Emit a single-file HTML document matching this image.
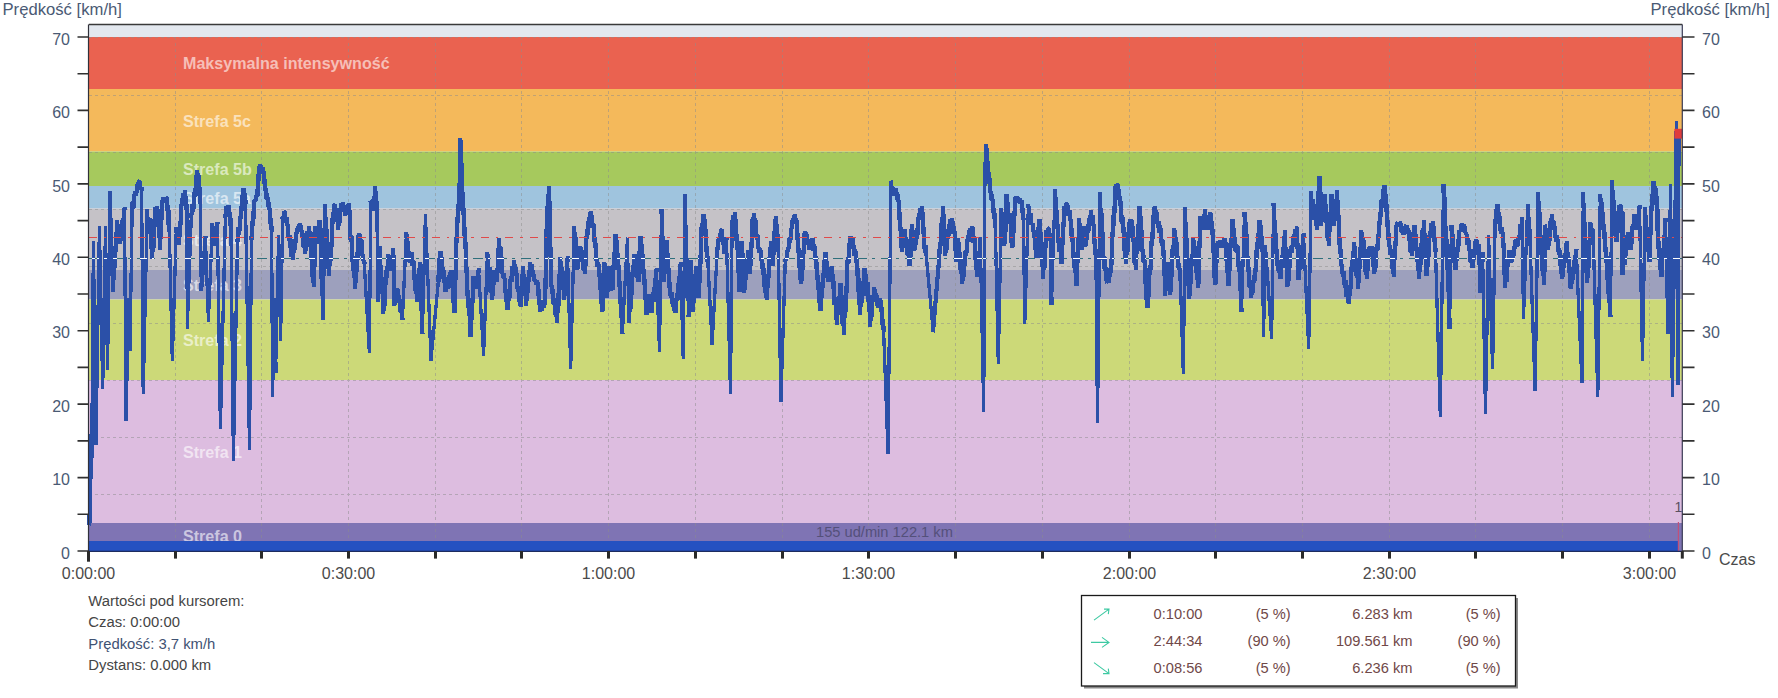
<!DOCTYPE html><html><head><meta charset="utf-8"><title>Prędkość</title>
<style>html,body{margin:0;padding:0;background:#fff}svg{display:block}text{font-family:"Liberation Sans",Arial,sans-serif}</style></head><body>
<svg width="1778" height="698" viewBox="0 0 1778 698">
<rect width="1778" height="698" fill="#fff"/>
<rect x="88.8" y="24.5" width="1593.5" height="12.5" fill="#e3e8ef"/>
<rect x="88.8" y="37" width="1593.5" height="52.0" fill="#ea6250"/>
<rect x="88.8" y="89" width="1593.5" height="62.5" fill="#f4b95b"/>
<rect x="88.8" y="151.5" width="1593.5" height="34.5" fill="#a6c95d"/>
<rect x="88.8" y="186" width="1593.5" height="22.5" fill="#9fc4de"/>
<rect x="88.8" y="208.5" width="1593.5" height="61.5" fill="#c5c2c7"/>
<rect x="88.8" y="270" width="1593.5" height="29.5" fill="#9da0bd"/>
<rect x="88.8" y="299.5" width="1593.5" height="80.5" fill="#ccd978"/>
<rect x="88.8" y="380" width="1593.5" height="143.0" fill="#ddbde0"/>
<rect x="88.8" y="523" width="1593.5" height="28.5" fill="#7f74b4"/>
<path d="M175.5 37V541 M261.5 37V541 M348.5 37V541 M435.5 37V541 M521.5 37V541 M608.5 37V541 M695.5 37V541 M782.5 37V541 M868.5 37V541 M955.5 37V541 M1042.5 37V541 M1129.5 37V541 M1215.5 37V541 M1302.5 37V541 M1389.5 37V541 M1475.5 37V541 M1562.5 37V541 M1649.5 37V541 M88.8 37.5H1682.3 M88.8 95.5H1682.3 M88.8 152.5H1682.3 M88.8 209.5H1682.3 M88.8 266.5H1682.3 M88.8 323.5H1682.3 M88.8 380.5H1682.3 M88.8 437.5H1682.3 M88.8 494.5H1682.3" stroke="#8c8c8c" stroke-opacity="0.5" stroke-width="1" stroke-dasharray="3 3" fill="none" shape-rendering="crispEdges"/>
<text x="183" y="69.3" font-size="16.1" font-weight="bold" fill="#ffffff" fill-opacity="0.6">Maksymalna intensywność</text>
<text x="183" y="126.5" font-size="16.1" font-weight="bold" fill="#ffffff" fill-opacity="0.6">Strefa 5c</text>
<text x="183" y="175.1" font-size="16.1" font-weight="bold" fill="#ffffff" fill-opacity="0.6">Strefa 5b</text>
<text x="183" y="203.6" font-size="16.1" font-weight="bold" fill="#ffffff" fill-opacity="0.6">Strefa 5a</text>
<text x="183" y="245.6" font-size="16.1" font-weight="bold" fill="#ffffff" fill-opacity="0.6">Strefa 4</text>
<text x="183" y="291.1" font-size="16.1" font-weight="bold" fill="#ffffff" fill-opacity="0.6">Strefa 3</text>
<text x="183" y="346.1" font-size="16.1" font-weight="bold" fill="#ffffff" fill-opacity="0.6">Strefa 2</text>
<text x="183" y="457.8" font-size="16.1" font-weight="bold" fill="#ffffff" fill-opacity="0.6">Strefa 1</text>
<text x="183" y="541.5" font-size="16.1" font-weight="bold" fill="#ffffff" fill-opacity="0.6">Strefa 0</text>
<rect x="88.8" y="541" width="1589.4" height="10.5" fill="#2551c1"/>
<text x="816" y="537" font-size="14.67" fill="#54507a">155 ud/min 122.1 km</text>
<defs><g id="ln" fill="none" stroke-linejoin="bevel" stroke-linecap="square" shape-rendering="crispEdges"><path d="M89.4,523.4 90.6,471.2 90.74,451.5 91.44,458.4 91.44,434.4 91.95,442.1 92,425.1 M113,290 114.17,260.2 114.87,267.9 115.07,245.8 115.77,251.6 117.1,220.2 118.46,237.2 119.16,230.7 120.1,244.3 121.5,228.1 122.2,232.6 122.66,218.6 123.36,223.5 124.5,209.2 M128.5,300 128.66,319.8 129.36,313.6 129.36,331.3 129.73,326.4 130,349 M132.1,212.2 132.68,200.9 133.38,208.5 134.1,196.1 135.21,191.1 135.91,195.7 136.8,191.1 137.25,183.7 137.95,190.1 138.6,181.7 139.57,181.1 140.27,188.9 141.6,189.1 M147.2,211.2 147.58,222.2 148.28,217.4 148.8,230.2 149.26,219.6 149.96,227 150.2,218.2 150.45,234.4 151.15,226.6 151.2,249.2 151.9,242.5 152.2,259.3 152.71,240.6 153.41,248.2 153.94,219.1 154.64,226.9 155.2,207.2 156.2,211.5 156.9,206.3 157.6,210.2 158.08,226.9 158.78,219.2 158.89,238.1 159.59,232.8 160.2,250.3 160.62,227.9 161.32,234.2 161.32,212.7 161.91,219.5 162.2,200.2 162.75,202.7 163.45,197.3 164.33,202.3 165.03,197 165.58,201.7 166.28,197.1 167.2,199.1 167.71,213.9 168.41,209.8 168.41,224.7 169.03,217.4 169.3,230.2 M176.3,229.2 177.05,239.5 177.75,232.5 178.9,245.3 179.3,230.3 180,236.5 180,220.8 180.66,225 181.3,207.2 182.08,198.5 182.78,206.2 183.42,193.2 184.12,200.1 185.3,190.1 185.59,204.4 186.29,196.7 186.29,209.5 186.68,204.2 186.9,216.2 M191.3,216.2 192.46,204.6 193.16,211.7 194.3,200.2 194.76,188.6 195.46,195.5 196.09,175 196.79,182.4 197.3,170.1 197.73,182.3 198.43,174.6 198.75,192.1 199.45,186.7 200.3,202.2 M201.3,289 202.39,267.4 203.09,275 203.58,252.7 204.28,260.3 205.4,238.3 M212.4,225.2 212.76,238.5 213.46,233.3 213.8,246.3 214.54,237.2 215.24,241.9 215.61,230.8 216.31,235.3 217.4,224.2 M225.4,216.2 226.64,206.4 227.34,214.3 228.4,205.2 229.01,216.6 229.71,212.3 229.83,226.1 230.53,218.5 231,230.2 M237.5,240.3 238.43,227.5 239.13,234.4 240.5,218.2 241.08,206.4 241.78,211.4 242.22,195.1 242.92,199.7 243.5,188.1 244.3,199.5 245,193 245.5,202.2 M251.5,238.3 252.29,221.1 252.99,226.4 253.01,210.8 253.71,218.6 254.5,200.2 255.68,200.4 256.38,195.9 257.5,196.1 257.69,185.1 258.39,190.8 258.39,174.1 259.07,181.4 259.5,166 260.35,165 261.05,170.7 262.12,173.4 262.82,167.7 263.5,172.1 264.21,184.3 264.91,179 265.5,190.1 266.37,199 267.07,193.2 268.15,207 268.85,202.6 269.6,210.2 270.35,224.3 271.05,218.2 271.6,230.2 M274.2,300 275.6,371.3 M282.6,218.2 283.33,219.3 284.03,211.7 285,212.2 286,223.2 286.7,217.3 288,230.2 288.91,240.9 289.61,234.7 290.15,247.4 290.85,243.2 291.64,256.9 292.34,251.5 293,260.3 293.69,248.5 294.39,252.6 294.56,239.4 295.26,245.5 296,232.2 297.03,233.9 297.73,226.6 298.37,231.7 299.07,225 299.77,223.8 300.47,229.1 301,225.2 302.07,237.3 302.77,233.3 303.41,247.3 304.11,242.3 305.1,254.3 306.19,241.3 306.89,247.1 307.62,230.9 308.32,237.4 309.1,226.2 309.85,237.7 310.55,232.3 311.1,242.3 311.68,261.7 312.38,254.8 312.62,277.2 313.32,271.8 313.7,287.1 313.89,259.8 314.59,267.2 314.59,240.8 315.03,248.6 315.1,226.2 315.9,239.6 316.6,233.6 317.1,244.3 317.96,229.8 318.66,234.4 319.5,220.2 319.77,235.7 320.47,228 320.47,243.5 320.91,236.8 321.1,250.3 321.49,278.7 322.19,271.9 322.19,295.5 322.68,288.5 323.1,318.2 M325.1,206.2 325.44,223.4 326.14,216.8 326.14,235.6 326.76,229.2 327.1,246.3 327.5,260.8 328.2,254.3 328.2,269.3 328.85,265.2 329.1,276.1 329.59,260.4 330.29,266.2 330.82,242 331.52,246.8 332.1,230.2 332.48,217.9 333.18,224.4 333.18,212.5 333.64,218.3 334.1,205.2 334.71,204.5 335.41,208.7 336.2,208.2 336.73,221.7 337.43,213.9 338.2,230.2 338.84,217.2 339.54,223.3 340.2,210.2 341.31,203.6 342.01,209 343.2,202.2 343.88,211.9 344.58,207 345.2,216.2 346.28,209 346.98,213 347.2,205.2 347.9,210.3 348.8,203.2 348.9,214 349.6,209.6 349.6,225.4 350.16,219.9 350.2,230.2 350.7,242 351.4,235.6 352.2,250.3 352.66,263.8 353.36,257.7 353.77,278.3 354.47,272 355.2,289.1 356.07,264.8 356.77,272 356.81,252.3 357.51,259.5 358.2,238.3 358.9,233.5 359.6,238.9 360.2,234.3 360.74,245.9 361.44,240.5 362.2,254.3 362.84,255.9 363.54,260.6 364.2,262.3 M370.9,202.2 371.79,203.7 372.49,209 373.3,210.2 373.91,195.8 374.61,201 375.3,185.7 375.59,200.9 376.29,194.9 376.29,208.9 376.67,201.5 376.9,216.2 M378.3,300.2 378.43,278.8 379.13,284.5 379.13,257.2 379.69,263.1 379.7,246.3 380.54,272.1 381.24,265.3 381.68,294 382.38,286.6 383.3,314.2 383.93,299.3 384.63,305.6 385.64,279.4 386.34,284.5 386.5,269.6 387.2,273.7 388.3,254.3 389.44,266.1 390.14,260.9 390.9,270.4 391.91,255.6 392.61,260.1 393.3,248.3 394.3,306.2 395.22,295.2 395.92,301.8 397.3,288.1 398.6,300.3 399.3,295.4 399.3,303.2 399.82,298.7 400.69,313.1 401.39,307.2 402.4,318.2 M406.4,234.3 407.08,246.4 407.78,241.4 408.04,254.9 408.74,250.8 409.4,262.3 410.25,261 410.95,253.7 411.8,252.3 412.66,266.3 413.36,259.9 414.23,280.3 414.93,273.8 415.74,294 416.44,287.1 417.4,302.2 417.7,287.8 418.4,294.7 418.57,273.6 419.27,279.7 419.8,262 422.4,332.2 M438.5,280.1 438.76,268.7 439.46,273.8 439.49,257.9 440.19,263.7 440.5,251.3 441.29,264 441.99,257.1 442.72,274.3 443.42,270.2 443.7,283.2 444.4,277.4 445.5,292.1 447.05,281.4 447.75,288.9 448.19,278.9 448.89,282.9 449.92,271.8 450.62,277.4 451.5,270.1 452.19,288.4 452.89,281.6 453.21,302.7 453.91,296.8 454.5,313.2 456.5,240.3 457.35,217.5 458.05,223 458.1,204 458.8,211.4 459.5,190.1 460.4,137.6 460.65,158 461.35,152.9 461.56,184.7 462.26,180.5 462.5,200.2 462.92,215.2 463.62,208.5 463.62,222.4 464.16,217.3 464.5,230.2 464.91,249.2 465.61,241.6 465.61,257.6 466.07,251.8 466.5,270.4 467.55,296.2 468.25,290.3 468.77,315.5 469.47,310.9 470.6,337.3 471.29,312.6 471.99,319.8 472.04,298.5 472.74,303.3 473.6,276.4 474.57,286.6 475.27,279.5 476,288.4 477.02,276.9 477.72,281 478.6,270.4 M487.4,254.3 488.75,275.1 489.45,267.3 490.48,291.9 491.18,285.1 492,300.1 492.33,288.7 493.03,296 493.27,278.3 493.97,284.8 494.6,270.3 495.39,280.6 496.09,273.8 496.6,282.3 496.91,267.6 497.61,272.7 498.01,247.7 498.71,252.2 499,238.2 499.74,252.3 500.44,246.7 500.55,261.1 501.25,254.6 502.1,270.3 503.03,277.6 503.73,273.2 505.1,282.3 505.5,293.2 506.2,288.9 506.2,302 506.88,295.7 507.5,310.1 508.55,293.6 509.25,301 510.1,286.3 510.85,276.3 511.55,282 512.3,266.6 513,272.9 514.1,260.3 515.24,275.1 515.94,267.4 517.1,282.3 517.88,292.2 518.58,288 519.26,301.9 519.96,297.3 520.7,307.1 521.2,289.7 521.9,295.6 522.11,274.1 522.81,280.3 523.1,266.3 523.81,282.8 524.51,277.8 524.77,295.6 525.47,290.7 526.1,306.1 527.24,286.7 527.94,292.7 528.18,277 528.88,281.9 530.1,262.3 531,271.4 531.7,264.5 532.21,276.8 532.91,270 534.1,280.3 535.22,279.6 535.92,283.9 536.22,284.9 536.92,280.5 538.2,284.3 538.43,296.1 539.13,288.7 539.18,305.4 539.88,300.1 540.2,312.1 541.34,306.5 542.04,310.6 542.53,303.6 543.23,307.8 543.32,299.9 544.02,307.6 545.2,300.1 546.2,246.2 546.79,222.1 547.49,227 547.49,206.1 548.12,213.9 548.8,186.4 548.95,208.6 549.65,201.4 549.65,221.2 550,214.7 550.2,238.2 551.2,282.3 552.21,294 552.91,289.1 553.69,304.9 554.39,298.5 555.2,314.7 555.9,309.2 557.2,323.2 557.68,301.4 558.38,308.7 558.92,274.1 559.62,281.3 560.2,257.3 561.14,274.8 561.84,267.4 562.53,289.1 563.23,282.8 564.2,300.1 565.02,282.2 565.72,289.1 566.06,270.8 566.76,275.1 567.6,258.3 M574.3,228.2 574.73,241.5 575.43,236.7 575.73,256.9 576.43,249.4 577.3,270.3 578.44,254.8 579.14,261.8 580.3,246.2 581.12,256.2 581.82,250.4 583.3,269.9 584,263.5 584.9,274.3 585,260.4 585.7,266.2 585.7,251.5 586.09,256 586.3,240.2 587.18,229.4 587.88,234.8 588.8,217.6 589.5,225.1 590.7,211.1 591.35,220 592.05,215 592.62,228 593.32,223.4 594.3,234.2 594.88,247.9 595.58,243 596.3,258.3 597.44,266.3 598.14,262.2 599.3,270.3 600.19,289.8 600.89,284.4 601.23,304.4 601.93,297.8 602.4,312.1 602.77,291.2 603.47,297 603.53,273.1 604.23,277.6 604.4,262.3 604.77,277.9 605.47,272.8 605.47,290.8 606.14,284 606.4,298.4 606.89,287.1 607.59,291.8 607.82,277 608.52,281.9 609.4,266.3 610.35,279.5 611.05,273.9 612.4,290.4 613.28,264.7 613.98,270.1 613.98,251.7 614.66,257.5 615.4,234.2 615.95,246.6 616.65,239.8 617.15,257.6 617.85,253 618.4,264.3 619.22,287.4 619.92,280.8 621,317.6 621.7,311.1 622.4,332.2 M629,321.2 629.94,301.3 630.64,309.1 630.92,290.9 631.62,295.1 632.94,265.2 633.64,270.8 634.4,254.3 635.12,264.7 635.82,258.5 637.1,278.2 637.8,272.2 638.5,282.3 638.77,265.9 639.47,270.2 639.47,251 640.05,258.5 640.5,236.2 641.15,251.4 641.85,243.7 641.94,259 642.64,254 643.5,270.3 643.93,284.8 644.63,279.2 644.94,299.5 645.64,294.5 646.5,315.1 647.41,302.3 648.11,307.5 649.1,294.1 649.78,304.3 650.48,300.2 651.5,313.1 652.78,296.8 653.48,301.5 653.66,288.9 654.36,294.4 654.93,278.6 655.63,282.9 656.5,270.3 M661.5,211.1 664.1,282.3 664.66,267.3 665.36,271.7 665.77,250.1 666.47,257.8 667.1,240.2 667.62,260.7 668.32,253.3 668.32,272.1 669,268.1 669.6,288.4 670.79,297.7 671.49,291.8 672.32,303.8 673.02,298.3 673.87,310.8 674.57,304 675.6,313.1 676.83,295.1 677.53,300.3 677.71,285.5 678.41,292.7 678.78,276.4 679.48,280.9 680.6,264.3 M688.6,315.1 688.98,296.3 689.68,300.6 689.95,272.6 690.65,279.8 691,260.3 691.14,278.3 691.84,273.8 691.84,293.8 692.31,288.9 692.6,312.1 693.16,297.1 693.86,302.7 694.56,278.5 695.26,283.5 696,266.3 696.33,278 697.03,271.3 697.2,287.6 697.9,282.8 698.6,298.1 698.97,277.5 699.67,282.9 699.7,259.2 700.4,264.8 701,238.2 701.83,223.6 702.53,230.5 703.5,214.5 704.04,227.1 704.74,219.5 704.95,235.8 705.65,228.8 706.1,240.2 706.44,252.1 707.14,246.4 707.18,262.2 707.88,255.6 708.1,266.3 M717.1,254.3 718.1,240.2 719.37,239.6 720.07,232.7 720.27,237.5 720.97,230.3 722.1,230.2 722.77,245.1 723.47,239.9 724.1,254.3 724.88,245 725.58,249.5 726.5,239.2 M732.1,224.2 733.3,215.5 734,220.8 735.2,212.1 735.47,225 736.17,218.9 736.54,241 737.24,236.9 737.6,250.2 737.8,265.5 738.5,257.7 738.69,283.2 739.39,277.5 739.6,292.1 739.84,273.2 740.54,281 740.54,259.1 741.13,265.1 741.6,241.2 741.96,257.8 742.66,253 742.92,276.9 743.62,272.3 744.2,293.1 745.26,275.7 745.96,280.3 746.83,258.7 747.53,263.7 748.2,250.2 748.88,265.9 749.58,259.4 750.2,274.3 750.4,258.6 751.1,265.6 751.16,242.5 751.86,248.2 752.2,230.2 752.61,219.2 753.31,225 753.8,213.1 754.55,224.1 755.25,217.7 756.2,230.2 756.74,239.4 757.44,235.3 758.2,246.2 759.43,252.8 760.13,248.2 761.2,254.3 762.08,268.9 762.78,262.6 762.78,274.8 763.36,267.6 764.2,282.3 765.12,293.1 765.82,288.9 766.8,300.1 768.13,273.9 768.83,278 769.23,257.2 769.93,263 770.9,241.2 771.34,253.9 772.04,248.3 772.04,259.3 772.49,254.3 772.9,266.3 773.35,249 774.05,255.2 774.35,230.8 775.05,237.7 775.7,216.5 776.11,229 776.81,223.7 776.98,241.5 777.68,233.7 778.3,250.2 M785.3,260.3 786.61,258.4 787.31,251 788.3,250.2 789.4,238.3 790.1,242.8 791.3,230.2 792.83,218.3 793.53,224.2 794.7,214.1 795.46,222.4 796.16,217.8 797.3,228.2 797.49,239.7 798.19,232.9 798.41,252.6 799.11,247.8 799.3,258.3 799.71,270.8 800.41,265.6 800.41,280.1 801.04,272.7 801.3,284.3 802.04,263 802.74,270.2 802.96,249.9 803.66,253.9 804.4,234.2 805.35,231.1 806.05,237.3 807,234.2 807.97,245 808.67,241 809.4,250.2 810.64,240.7 811.34,247 812.4,238.2 813.56,250.3 814.26,244.3 815.4,256.3 816.06,268.8 816.76,262.1 817.4,274.3 818.03,289.8 818.73,282.7 819.09,303.1 819.79,295.5 820.4,311.1 821.35,293.7 822.05,297.9 822.27,282.2 822.97,287.8 824.17,260.6 824.87,264.6 825.4,252.2 826.18,265.9 826.88,261.1 826.95,273.3 827.65,269.2 828.4,282.3 829.41,273.1 830.11,279.5 830.66,266.9 831.36,274.5 832,266.3 833.22,289 833.92,281.2 834.54,304.8 835.24,297.2 836.9,325.2 837.6,310.9 838.3,315 838.71,296 839.41,303.7 840.5,283 841.17,301.4 841.87,296.1 842.58,324.1 843.28,316.5 843.9,335.2 844.67,309.4 845.37,315.6 845.67,289.9 846.37,294.3 847.1,270.3 847.68,258.3 848.38,263.7 849.17,243.2 849.87,248.8 850.5,236.2 851.88,245.3 852.58,238.6 853.5,246.2 854.5,255.8 855.2,249.3 856.5,260.3 857.28,275.4 857.98,267.8 858.5,280.3 858.64,295.3 859.34,289.8 859.34,304.7 859.7,298 859.9,315.1 861.12,295.7 861.82,302.5 862.52,281.1 863.22,288.6 864.5,268.3 864.72,278.9 865.42,273.7 865.42,289 866.11,282.6 866.5,296.1 866.94,286 867.64,290.6 867.9,282.3 868.29,301.7 868.99,294.7 868.99,312.4 869.56,308.2 870,327.2 871.09,309.9 871.79,317.1 872.7,294.8 873.4,301.7 874.2,287.4 875.5,299.3 876.2,293.7 877.6,306.1 878.76,306.8 879.46,299.3 880.6,300.1 881.21,311.9 881.91,307.6 882.44,324.7 883.14,319.4 883.6,330.2 M891,182.6 892.11,191.5 892.81,187 894,196.2 894.58,189.4 895.28,195.5 896,188.2 897.12,199.6 897.82,194.4 899,206.2 899.19,219.5 899.89,212.4 899.93,231.4 900.63,227.2 901,242.3 902.1,252.1 903.24,236.8 903.94,241.3 904.7,229.3 905.96,243.8 906.66,239.6 907.31,254.9 908.01,249.1 909.5,266.1 909.84,249 910.54,256.6 910.76,232.1 911.46,238.5 911.7,223.9 912.65,237.6 913.35,230.4 913.35,242.8 914.05,236.1 915.1,250.4 915.56,239.9 916.26,245.2 916.69,228.1 917.39,235.1 918.1,221.3 919.13,213.1 919.83,218.8 920.3,207.9 921,214.9 922.1,205.8 922.32,219.9 923.02,212.4 923.1,233.5 923.8,227.3 924.1,242.3 924.87,252.6 925.57,245.2 926.1,254.1 M933.1,330.3 939.2,258.4 939.93,242.1 940.63,246.3 941.33,223.1 942.03,228.5 943.2,205.8 943.5,221.1 944.2,214.4 944.26,233.7 944.96,229.4 945.2,242.3 945.2,256.1 945.2,242.3 945.2,256.1 945.2,242.3 945.2,256.1 946.12,243.6 946.82,249.7 947.44,234.6 948.14,239 949.2,226.3 950.4,219.2 951.1,224.7 952.2,217.9 953.35,234 954.05,226.2 955.2,242.3 956.2,262.1 956.99,246.4 957.69,250.6 958.2,238.3 959.35,258.9 960.05,252.1 960.39,269.6 961.09,265.2 962.2,284.2 963.08,271.2 963.78,276.5 964.54,257.9 965.24,265.5 965.51,251 966.21,256.1 967.2,242.3 968.12,234.8 968.82,241.6 969.64,230.2 970.34,236.5 970.51,227.9 971.21,233.2 972.3,225.9 973.62,242.5 974.32,236.5 975.3,250.4 975.37,260.2 976.07,254.6 976.07,270.4 976.65,263.8 976.9,277.1 977.45,264.6 978.15,269.6 978.6,251.4 979.3,257.3 980.3,239.3 M984.9,180.2 985.13,162.3 985.83,168.4 985.83,152.9 986.16,160.6 986.3,144 986.49,153.7 987.19,148.3 987.38,164.7 988.08,160.7 988.3,170.1 989.04,183.7 989.74,178.3 990.3,190.2 991.22,199.4 991.92,194.5 993.3,206.2 993.94,218.9 994.64,213.4 995.3,226.3 M1001.3,210.2 1001.99,224.4 1002.69,220.2 1002.88,236.6 1003.58,228.7 1004.4,246.3 1004.7,226.4 1005.4,232.2 1005.4,212.3 1005.95,217.3 1006.4,193.8 1007.2,208.9 1007.9,202.2 1008.4,214.3 1009.05,217.4 1009.75,213.2 1010.4,216.3 1010.8,231.2 1011.5,225.3 1011.5,243.2 1012.2,235.5 1012.4,248.1 1013.13,226.4 1013.83,232.8 1014.09,210.6 1014.79,215.5 1015.4,196.6 1016.51,202.7 1017.21,195.9 1018.4,202.2 1019.75,198.3 1020.45,203.8 1021.4,200.2 1022.18,212.7 1022.88,208.1 1023.4,218.3 M1028.4,205.8 1029.68,218.7 1030.38,213.1 1031.4,224.3 1032.78,223.8 1033.48,231.7 1034.4,230.3 1034.71,241.5 1035.41,236.8 1035.41,250.1 1036.03,244.7 1036.5,258.4 1036.91,245.2 1037.61,251.7 1038.28,227.2 1038.98,234.1 1039.5,219.3 1040.11,238.5 1040.81,231.8 1041.28,257.5 1041.98,251.9 1043.1,279.1 1043.69,262.3 1044.39,268.8 1045.15,241.7 1045.85,247.6 1046.5,230.3 1047.37,234.1 1048.07,228.3 1048.65,228.4 1049.35,236 1050.5,233.3 1051.5,303.2 M1055.1,191.2 1055.36,203.8 1056.06,196.6 1056.19,214.5 1056.89,210 1057.5,226.3 1058.58,242.5 1059.28,237.2 1059.63,252.3 1060.33,247.2 1061.5,264.1 1062.34,237.2 1063.04,244.7 1063.18,222.2 1063.88,227.2 1064.5,205.8 1065.46,208.6 1066.16,203 1067.5,205.8 1068.63,215.7 1069.33,209.8 1070.6,220.3 1071.28,235.5 1071.98,227.7 1072.6,242.3 1073.42,258.2 1074.12,252 1074.77,273 1075.47,266.8 1076.6,286.2 1077.21,258.8 1077.91,263.3 1077.98,237.8 1078.68,244.5 1079.2,218.3 1079.46,230 1080.16,223 1080.42,242.3 1081.12,236.3 1081.6,250.4 1082.29,234.4 1082.99,241.5 1083.6,226.3 1083.85,237.9 1084.55,231.9 1085,246.3 1085.5,245.6 1086.2,240.1 1087,238.3 1088.16,224.6 1088.86,230.8 1089.28,217.7 1089.98,222 1091,210.2 1091.97,222.8 1092.67,215.2 1094,230.2 1094.34,243.8 1095.04,238.7 1095.04,255.2 1095.71,248.9 1096,262.3 M1100,194.5 1100.63,214.9 1101.33,209.4 1101.89,237.9 1102.59,231.6 1103.1,250.3 1103.84,263.7 1104.54,257.2 1104.54,269.4 1105.24,264.6 1106.1,278.4 1107.31,283 1108.01,278.7 1109.1,283.1 1109.9,267.8 1110.6,273.2 1110.71,258.8 1111.41,264.6 1112.1,250.3 1112.54,232.5 1113.24,236.4 1113.78,206.4 1114.48,212.6 1115.1,190.1 1115.86,183.9 1116.56,190.8 1117.7,183.7 1118.4,194.1 1119.1,189.6 1119.87,205.9 1120.57,200.8 1121.1,210.2 1121.64,222.1 1122.34,215 1122.87,232.5 1123.57,227.5 1124.1,238.3 1124.52,251.4 1125.22,245 1125.22,258.2 1125.75,251.8 1126.1,264 1126.63,249.9 1127.33,254.9 1127.93,232.2 1128.63,237.9 1129.1,224.2 1130.44,219.4 1131.14,224.1 1132.1,219.8 1132.44,234.1 1133.14,226.5 1133.14,241.7 1133.74,237.2 1134.1,250.3 1134.59,263.4 1135.29,256.7 1135.8,270.1 1136.78,244.2 1137.48,250.8 1138.07,223.7 1138.77,227.7 1139.6,205.8 1140.08,221.5 1140.78,215.9 1141,235.9 1141.7,230.1 1142.2,246.3 1143.39,261.7 1144.09,255.6 1145.2,270.4 1145.73,287.6 1146.43,280.8 1146.53,300.1 1147.23,293.8 1147.6,308.2 1148.19,289.7 1148.89,296.5 1149.54,268.4 1150.24,274.4 1151.2,250.3 1152.01,231.8 1152.71,239.1 1153.36,214.6 1154.06,221.3 1154.6,206.6 1155.46,215.7 1156.16,210.1 1157.2,220.2 1158.06,227.3 1158.76,221.6 1159.39,232.9 1160.09,225.4 1161.2,234.3 1161.76,246.1 1162.46,239.6 1162.85,255.7 1163.55,250.2 1164.2,262.3 1165.2,296.1 1165.92,280 1166.62,287.7 1166.76,271.2 1167.46,277.6 1168.2,262 1168.54,275.1 1169.24,270.5 1169.42,289.9 1170.12,283.4 1170.3,295.1 1171.24,270.6 1171.94,276.6 1172.55,249.5 1173.25,254.3 1174.3,228.6 1175.15,241.2 1175.85,236.6 1175.95,249.6 1176.65,241.9 1177.3,254.3 1178.38,267.8 1179.08,263.7 1180.3,278.4 M1185.3,209.2 1185.47,228.1 1186.17,222 1186.17,245.8 1186.72,238.1 1186.9,258.3 1187.24,272.5 1187.94,267.6 1188.02,286.4 1188.72,280.3 1189.3,299.1 1190.12,278.7 1190.82,283.9 1191.69,255.1 1192.39,259.8 1193.3,238.3 1194.14,253.8 1194.84,246.5 1195.46,266.3 1196.16,260.4 1196.87,279.5 1197.57,275.2 1198.3,288.1 1200.3,216.2 1201.11,227.2 1201.81,220.6 1202.4,230.2 1203.19,219 1203.89,223.4 1205,209.6 1205.99,223.7 1206.69,218.6 1207.4,230.2 1208.67,218.3 1209.37,223 1210.4,212.6 1211.18,227.6 1211.88,221.5 1211.89,234.7 1212.59,229.4 1213.4,244.3 1213.8,261.8 1214.5,257.5 1214.5,277.6 1215.2,270.1 1215.4,285.1 1215.66,270.2 1216.36,275.3 1216.36,255 1217.03,262.9 1217.4,244.3 1218.32,242.2 1219.02,246.4 1219.51,248.1 1220.21,240.5 1221.4,244.3 1222.13,240.7 1222.83,246.3 1223.67,246.2 1224.37,238.5 1225.4,241.3 1226.12,260.6 1226.82,254 1226.97,272.6 1227.67,267.2 1228.4,286.1 1229.11,265.6 1229.81,271.1 1230.51,242.6 1231.21,247.5 1232.4,219.2 1233.14,232.3 1233.84,228 1234.19,244 1234.89,237.4 1235.5,250.3 1236.3,250.6 1237,246.2 1237.9,246.3 1238.78,272 1239.48,264.2 1239.91,290.6 1240.61,285.8 1241.5,310.2 M1244.5,213.8 1245.02,229.9 1245.72,222.3 1245.83,240.7 1246.53,234.2 1247.1,250.3 1248.35,272.1 1249.05,266.8 1249.62,287.6 1250.32,281.5 1251.1,298.1 1251.96,288.4 1252.66,292.6 1253.99,274.8 1254.69,280.6 1255.5,270.4 1256.45,250.2 1257.15,257.8 1257.86,233.1 1258.56,239 1259.5,219.8 1260.05,232.4 1260.75,225.5 1261.03,241.9 1261.73,236 1262.5,250.3 M1273.6,205.2 1274.37,226.8 1275.07,220.4 1275.07,237.4 1275.77,232.7 1276.6,254.3 1277.71,266.8 1278.41,259.9 1278.66,273.2 1279.36,265.3 1280.6,279.1 1281.46,263.4 1282.16,268 1282.89,246.8 1283.59,252.6 1285,230.2 1285.5,253.9 1286.2,246.6 1286.2,268.4 1286.82,261.7 1287.4,287.1 1287.75,275.1 1288.45,281.4 1288.68,263.9 1289.38,269.2 1290,254.3 1290.94,245.8 1291.64,252.6 1293,242.3 1293.74,234.5 1294.44,241.5 1295.21,229.1 1295.91,235.4 1297,226.6 1297.22,248.6 1297.92,242.7 1297.92,269.3 1298.51,261.7 1298.6,280.1 1299.71,264.1 1300.41,269.4 1301.81,245.3 1302.51,249.8 1303.5,235.3 M1311.1,193.1 1311.71,204.6 1312.41,199 1312.98,215.5 1313.68,211 1314.1,220.2 1314.48,208.3 1315.18,215.3 1315.5,204.2 1315.74,215.8 1316.44,211.8 1316.44,226 1317.03,220.8 1317.1,230.2 1317.69,206 1318.39,212.6 1318.39,191.4 1319.02,198.7 1319.5,176.5 1319.73,197.1 1320.43,191.8 1320.43,214.5 1320.98,208.5 1321.1,226.2 1322.22,211.1 1322.92,217.5 1323.61,200.7 1324.31,205.3 1325.1,193.7 1325.41,207.8 1326.11,203.9 1326.18,223.2 1326.88,216.2 1327.1,230.2 1327.86,241.2 1328.56,237.1 1329.1,246.3 1329.56,225.5 1330.26,231.4 1330.26,212.1 1330.9,216.8 1331.5,193.7 1332.21,210.7 1332.91,203.3 1332.91,217.6 1333.47,210.4 1334.1,226.2 1334.86,210.4 1335.56,215.9 1335.89,198.6 1336.59,203.5 1337.2,189.7 1337.44,203.7 1338.14,199.7 1338.23,220.8 1338.93,214.6 1339.2,230.2 1339.59,245.1 1340.29,239.2 1340.29,253.9 1340.86,248.7 1341.2,262.3 1343.04,277.1 1343.74,271.6 1344.77,287.4 1345.47,280.4 1346.48,296.7 1347.18,290 1348.8,304.2 1349.42,290.6 1350.12,295.6 1351.44,267.6 1352.14,272.1 1352.14,260.2 1352.82,264.2 1354.2,242.3 1355.35,262.1 1356.05,257.7 1356.49,276 1357.19,270.3 1358.2,289.1 1359,263.5 1359.7,269.4 1359.86,247.3 1360.56,251.4 1361.2,229.8 1362.49,244.5 1363.19,237.5 1364.2,250.3 1364.77,264.1 1365.47,256.8 1365.63,273.4 1366.33,266.6 1366.8,279.1 1367,264.7 1367.7,271.1 1367.7,258.4 1367.98,265.8 1368.2,250.3 1369.54,247.1 1370.24,251.9 1370.71,251.3 1371.41,246.5 1372.3,248.3 1372.74,260.8 1373.44,256.2 1373.44,267.1 1373.95,263 1374.3,274.1 1374.85,263.2 1375.55,267.9 1376.75,244.5 1377.45,250.1 1377.92,233.9 1378.62,238.3 1379.3,226.2 1380.21,212.2 1380.91,216.9 1381.38,199.9 1382.08,207.4 1383.3,189.1 1383.84,193 1384.54,185.2 1385.3,189.1 1385.6,201.4 1386.3,194.4 1386.35,211.7 1387.05,204.3 1387.3,216.2 1387.68,229.9 1388.38,222.9 1388.4,240.4 1389.1,232.8 1389.3,244.3 1390.59,254.8 1391.29,249.2 1392.3,258.3 1392.69,271.5 1393.39,264.9 1393.7,277.1 1394.38,253.6 1395.08,260.4 1395.08,241.3 1395.76,246 1396.3,226.2 1397.56,222 1398.26,227 1399.7,222.6 1400.4,222.9 1401.1,229 1401.74,232.3 1402.44,228 1403.4,234.3 1404.48,232.2 1405.18,227.7 1406.4,225.2 1407.4,234.1 1408.1,228 1409.4,238.3 1410.33,251.7 1411.03,244 1411.8,256.3 1412.42,241.4 1413.12,248.1 1413.17,232.1 1413.87,239.4 1414.4,225.2 1415.18,240.5 1415.88,233.7 1416.4,246.3 1417.08,262.2 1417.78,256.3 1417.78,271.4 1418.43,263.5 1419,279.1 1420.08,259.4 1420.78,264.9 1421.46,243.3 1422.16,248.3 1422.46,230.2 1423.16,237.7 1424,219.8 1424.38,240.9 1425.08,233.1 1425.22,259.3 1425.92,253.8 1426.4,276.1 1427.08,259.2 1427.78,267.1 1427.82,250.9 1428.52,256.8 1429.4,238.3 1430.02,230.7 1430.72,236.7 1431.61,223.2 1432.31,229.1 1433,221.2 1433.32,232.2 1434.02,225.7 1434.24,241.9 1434.94,237.6 1435.5,250.3 M1443.5,186.5 1443.76,202.2 1444.46,197.5 1444.46,218.1 1445.14,211.1 1445.5,230.2 1445.67,241.8 1446.37,235.3 1446.57,256.9 1447.27,249.2 1447.5,262.3 1447.94,291.5 1448.64,284.5 1448.64,312.7 1449.3,306.1 1449.5,327.2 M1451.5,227.2 1451.95,239.5 1452.65,233.6 1453.33,255.1 1454.03,250.3 1454.5,262.3 1455.5,270.1 1456.36,255.2 1457.06,260.9 1457.89,239.6 1458.59,245.9 1459.5,230.2 1460.78,231.2 1461.48,225.2 1462.03,223.5 1462.73,229.7 1463.5,225.2 1464.86,227.8 1465.56,232.9 1466.5,234.3 1467.53,244.6 1468.23,238.2 1469.6,250.3 1470.71,262.9 1471.41,255 1472.6,268.1 1473.43,254.9 1474.13,260.3 1474.13,249.3 1474.76,254.6 1475.6,241.3 1476.91,240 1477.61,245.9 1478.6,244.3 1478.98,264.9 1479.68,259.1 1479.7,281.8 1480.4,277.6 1480.6,293.1 1480.83,279.3 1481.53,284.4 1481.53,265.1 1482.21,272.3 1482.6,254.3 M1495,230.2 1495.52,218.9 1496.22,224.2 1496.39,209.2 1497.09,216.5 1497.6,204.2 1498.48,218.3 1499.18,212.6 1500,226.2 1501.07,233.7 1501.77,227.3 1502.7,234.3 1502.91,247.8 1503.61,243.4 1503.61,253.6 1503.89,248.4 1504.1,262.3 1505.1,288.1 1505.79,274.8 1506.49,281.8 1507.37,259.5 1508.07,267.2 1509.1,250.3 1510.06,257.5 1510.76,253.5 1512.1,262.3 1513.08,250.4 1513.78,255.6 1515.1,241.3 1516.28,239.7 1516.98,246 1518.1,244.3 1518.81,235.5 1519.51,239.8 1520.5,224.5 1521.2,229.6 1522.1,219.2 M1527.7,205.8 1528.21,221.6 1528.91,217.5 1528.93,233.5 1529.63,228.9 1530.1,244.3 M1538.2,194.5 1538.46,207.6 1539.16,200.9 1539.19,219.4 1539.89,212 1540.2,226.2 1540.63,243.4 1541.33,237 1541.33,254.6 1541.99,249.9 1542.2,262.3 1542.84,276.2 1543.54,271 1544.2,285.1 1545.2,224.6 1545.91,235.9 1546.61,231.5 1547.03,246 1547.73,240.6 1548.2,250.3 1549.21,232.8 1549.91,240.5 1550.5,220.9 1551.2,226.4 1551.8,214.2 1553.34,229.4 1554.04,221.4 1555.2,234.3 1556.17,242.2 1556.87,235.2 1558.2,244.3 1558.78,254.7 1559.48,250.1 1560.08,265.7 1560.78,261.7 1561.2,270.4 1562.2,279.1 1563.52,262.6 1564.22,267.8 1564.69,253.1 1565.39,257.7 1566.8,240.7 1568.01,263 1568.71,257 1568.81,272.7 1569.51,267.3 1570.7,289.1 1571.48,279.1 1572.18,283.9 1573.07,267.4 1573.77,274.1 1574.89,255.2 1575.59,261.8 1576.3,251.3 M1583.3,194.1 1583.47,207.7 1584.17,203.3 1584.3,226.1 1585,221.8 1585.3,238.3 1585.56,254.7 1586.26,249.4 1586.39,272.7 1587.09,268.6 1587.3,283.1 1587.8,263.7 1588.5,267.8 1588.94,240.4 1589.64,245.1 1590.3,222.2 1591.65,236.4 1592.35,228.5 1593.3,240.3 M1600.3,196.1 1600.9,207.3 1601.6,202.1 1601.95,216.3 1602.65,212.2 1603.4,224.2 1604.11,239.4 1604.81,232.5 1605.4,246.3 1605.99,262.6 1606.69,255.9 1607.25,280.3 1607.95,272.8 1608.91,303 1609.61,295.9 1610.4,315.2 M1612,181.7 1612.6,196.1 1613.3,189.9 1613.41,205.3 1614.11,199.9 1614.4,210.2 1614.66,222.9 1615.36,217.3 1615.47,235.6 1616.17,230.4 1616.4,242.3 1617,228.1 1617.7,233 1618.27,211.2 1618.97,218.5 1619.4,205.2 1620.68,206.1 1621.38,211.9 1622.4,212.2 1622.4,275.1 1622.4,212.2 1622.4,275.1 1622.4,212.2 1622.4,275.1 1623.7,258.5 1624.4,265.4 1624.95,248.3 1625.65,255.8 1626.15,239.8 1626.85,245.3 1627.8,232.2 1628.78,244 1629.48,238.9 1630.4,250.3 1631.09,238.4 1631.79,243.4 1632.69,224.3 1633.39,228.7 1634.4,214.2 1634.96,223.6 1635.66,218.7 1636.5,230.2 1637.59,215.3 1638.29,223.1 1639.5,207.2 M1645.1,209.2 1645.54,222.5 1646.24,215.2 1646.44,232.9 1647.14,226.6 1647.5,238.3 1648.09,252.2 1648.79,246.7 1649.5,262 1649.64,246.1 1650.34,252.5 1650.34,228.2 1651.01,235.3 1651.1,220.2 1651.47,206.2 1652.17,210.7 1652.17,194.1 1652.86,200.3 1653.5,181.1 1654.52,190.4 1655.22,186.4 1656.5,197.1 1656.75,214.4 1657.45,209.5 1657.45,230.9 1658.09,224.3 1658.5,246.3 1659.19,259.5 1659.89,254.4 1660.26,270.4 1660.96,265.6 1661.5,277.1 1662.75,252.1 1663.45,256.5 1663.88,235 1664.58,241.7 1665.5,220.2" stroke-width="4.2"/><path d="M92,425.1 93.4,242.7 M93.4,242.7 96,443.1 M96,443.1 99.4,227.2 M99.4,227.2 102.7,387.3 M102.7,387.3 105.5,227.2 M105.5,227.2 107.5,368.2 M107.5,368.2 110.1,192.5 M110.1,192.5 113,290 M124.5,209.2 126.1,419.1 M126.1,419.1 128.5,300 M130,349 132.1,212.2 M141.6,189.1 143.2,392.3 M143.2,392.3 147.2,211.2 M169.3,230.2 172.3,359.2 M172.3,359.2 176.3,229.2 M186.9,216.2 187.3,327.1 M187.3,327.1 191.3,216.2 M200.3,202.2 201.3,289 M205.4,238.3 208.4,320.1 M208.4,320.1 212.4,225.2 M217.4,224.2 220.4,427.1 M220.4,427.1 225.4,216.2 M231,230.2 233.4,459.2 M233.4,459.2 237.5,240.3 M245.5,202.2 249.5,448.2 M249.5,448.2 251.5,238.3 M271.6,230.2 272.6,395.3 M272.6,395.3 274.2,300 M275.6,371.3 278.6,236.3 M278.6,236.3 280.6,339.2 M280.6,339.2 282.6,218.2 M323.1,318.2 325.1,206.2 M364.2,262.3 369.3,351.3 M369.3,351.3 370.9,202.2 M376.9,216.2 378.3,300.2 M402.4,318.2 406.4,234.3 M422.4,332.2 425.4,215.2 M425.4,215.2 431,359.3 M431,359.3 438.5,280.1 M478.6,270.4 483.6,354.3 M483.6,354.3 487.4,254.3 M567.6,258.3 570.7,367.3 M570.7,367.3 574.3,228.2 M622.4,332.2 627.4,239.2 M627.4,239.2 629,321.2 M656.5,270.3 659.5,350.2 M659.5,350.2 661.5,211.1 M680.6,264.3 683.2,357.3 M683.2,357.3 685,196.1 M685,196.1 688.6,315.1 M708.1,266.3 712.1,343.2 M712.1,343.2 717.1,254.3 M726.5,239.2 730.5,392.4 M730.5,392.4 732.1,224.2 M778.3,250.2 780.9,400.4 M780.9,400.4 785.3,260.3 M883.6,330.2 888,452 M888,452 891,182.6 M926.1,254.1 933.1,330.3 M980.3,239.3 983.7,410 M983.7,410 984.9,180.2 M995.3,226.3 998.3,362.4 M998.3,362.4 1001.3,210.2 M1023.4,218.3 1024.8,322.3 M1024.8,322.3 1028.4,205.8 M1051.5,303.2 1055.1,191.2 M1096,262.3 1097.5,421.5 M1097.5,421.5 1100,194.5 M1180.3,278.4 1183.3,372.4 M1183.3,372.4 1185.3,209.2 M1241.5,310.2 1244.5,213.8 M1262.5,250.3 1263.5,335.3 M1263.5,335.3 1265.5,246.3 M1265.5,246.3 1271.6,337.3 M1271.6,337.3 1273.6,205.2 M1303.5,235.3 1308.7,347.3 M1308.7,347.3 1311.1,193.1 M1435.5,250.3 1440.3,415.7 M1440.3,415.7 1443.5,186.5 M1449.5,327.2 1451.5,227.2 M1482.6,254.3 1485.5,412 M1485.5,412 1488.6,236.3 M1488.6,236.3 1492.6,367.4 M1492.6,367.4 1495,230.2 M1522.1,219.2 1523.5,317.2 M1523.5,317.2 1527.7,205.8 M1530.1,244.3 1535.1,389 M1535.1,389 1538.2,194.5 M1576.3,251.3 1581.9,381.4 M1581.9,381.4 1583.3,194.1 M1593.3,240.3 1597.8,395 M1597.8,395 1600.3,196.1 M1610.4,315.2 1612,181.7 M1639.5,207.2 1642.5,359.3 M1642.5,359.3 1645.1,209.2 M1665.5,220.2 1667.9,332.2 M1667.9,332.2 1670.6,186.1 M1670.6,186.1 1672.3,395 M1672.3,395 1676.3,122.4 M1676.3,122.4 1677.9,383 M1677.9,383 1679,136" stroke-width="3.3"/></g><mask id="lm" maskUnits="userSpaceOnUse" x="0" y="0" width="1778" height="698"><use href="#ln" stroke="#fff"/></mask></defs>
<use href="#ln" stroke="#2b50a8"/>
<path d="M88.8 237.5H1682.3" stroke="#e04a4a" stroke-width="1" stroke-dasharray="8 7 2.5 7" fill="none" shape-rendering="crispEdges"/>
<path d="M88.8 258.5H1682.3" stroke="#2f6f7c" stroke-width="1" stroke-dasharray="10 5 3 6" fill="none" shape-rendering="crispEdges"/>
<path d="M88.8 258.5H1682.3" stroke="#ffffff" stroke-width="1.2" stroke-dasharray="10 5 3 6" fill="none" mask="url(#lm)" shape-rendering="crispEdges"/>
<rect x="1674.4" y="128.8" width="8" height="9.8" fill="#e03c3c"/>
<path d="M1678.4 522V551" stroke="#c0507a" stroke-width="1.2"/>
<text x="1674.5" y="512" font-size="14" fill="#5a5060">1</text>
<path d="M88.8 24.5H1682.3" stroke="#3a3a3a" stroke-width="1.4" fill="none"/>
<path d="M88.5 24.5V551.5" stroke="#30303a" stroke-width="1.2" fill="none"/>
<path d="M1682.3 24.5V551.5" stroke="#3a3a55" stroke-width="1.2" fill="none"/>
<path d="M87.8 551.4H1683.3" stroke="#1d2c5e" stroke-width="1.3" fill="none"/>
<path d="M77.5 551.0H88.8 M1682.3 551.0H1694.5 M77.5 514.3H88.8 M1682.3 514.3H1694.5 M77.5 477.6H88.8 M1682.3 477.6H1694.5 M77.5 440.9H88.8 M1682.3 440.9H1694.5 M77.5 404.1H88.8 M1682.3 404.1H1694.5 M77.5 367.4H88.8 M1682.3 367.4H1694.5 M77.5 330.7H88.8 M1682.3 330.7H1694.5 M77.5 294.0H88.8 M1682.3 294.0H1694.5 M77.5 257.3H88.8 M1682.3 257.3H1694.5 M77.5 220.6H88.8 M1682.3 220.6H1694.5 M77.5 183.9H88.8 M1682.3 183.9H1694.5 M77.5 147.1H88.8 M1682.3 147.1H1694.5 M77.5 110.4H88.8 M1682.3 110.4H1694.5 M77.5 73.7H88.8 M1682.3 73.7H1694.5 M77.5 37.0H88.8 M1682.3 37.0H1694.5" stroke="#303030" stroke-width="1.6" fill="none"/>
<rect x="87" y="551" width="3" height="10.7" fill="#2a2a2a"/>
<rect x="174" y="551" width="3" height="7.6" fill="#2a2a2a"/>
<rect x="260" y="551" width="3" height="7.6" fill="#2a2a2a"/>
<rect x="347" y="551" width="3" height="7.6" fill="#2a2a2a"/>
<rect x="434" y="551" width="3" height="7.6" fill="#2a2a2a"/>
<rect x="520" y="551" width="3" height="7.6" fill="#2a2a2a"/>
<rect x="607" y="551" width="3" height="7.6" fill="#2a2a2a"/>
<rect x="694" y="551" width="3" height="7.6" fill="#2a2a2a"/>
<rect x="781" y="551" width="3" height="7.6" fill="#2a2a2a"/>
<rect x="867" y="551" width="3" height="7.6" fill="#2a2a2a"/>
<rect x="954" y="551" width="3" height="7.6" fill="#2a2a2a"/>
<rect x="1041" y="551" width="3" height="7.6" fill="#2a2a2a"/>
<rect x="1128" y="551" width="3" height="7.6" fill="#2a2a2a"/>
<rect x="1214" y="551" width="3" height="7.6" fill="#2a2a2a"/>
<rect x="1301" y="551" width="3" height="7.6" fill="#2a2a2a"/>
<rect x="1388" y="551" width="3" height="7.6" fill="#2a2a2a"/>
<rect x="1474" y="551" width="3" height="7.6" fill="#2a2a2a"/>
<rect x="1561" y="551" width="3" height="7.6" fill="#2a2a2a"/>
<rect x="1648" y="551" width="3" height="7.6" fill="#2a2a2a"/>
<rect x="1680.8" y="551" width="3" height="7.6" fill="#2a2a2a"/>
<text x="70" y="558.6" font-size="16" text-anchor="end" fill="#4a5a74">0</text>
<text x="1702" y="558.6" font-size="16" fill="#4a5a74">0</text>
<text x="70" y="485.2" font-size="16" text-anchor="end" fill="#4a5a74">10</text>
<text x="1702" y="485.2" font-size="16" fill="#4a5a74">10</text>
<text x="70" y="411.7" font-size="16" text-anchor="end" fill="#4a5a74">20</text>
<text x="1702" y="411.7" font-size="16" fill="#4a5a74">20</text>
<text x="70" y="338.3" font-size="16" text-anchor="end" fill="#4a5a74">30</text>
<text x="1702" y="338.3" font-size="16" fill="#4a5a74">30</text>
<text x="70" y="264.9" font-size="16" text-anchor="end" fill="#4a5a74">40</text>
<text x="1702" y="264.9" font-size="16" fill="#4a5a74">40</text>
<text x="70" y="191.5" font-size="16" text-anchor="end" fill="#4a5a74">50</text>
<text x="1702" y="191.5" font-size="16" fill="#4a5a74">50</text>
<text x="70" y="118.0" font-size="16" text-anchor="end" fill="#4a5a74">60</text>
<text x="1702" y="118.0" font-size="16" fill="#4a5a74">60</text>
<text x="70" y="44.6" font-size="16" text-anchor="end" fill="#4a5a74">70</text>
<text x="1702" y="44.6" font-size="16" fill="#4a5a74">70</text>
<text x="88.5" y="579.4" font-size="16" text-anchor="middle" fill="#4a4a4a">0:00:00</text>
<text x="348.5" y="579.4" font-size="16" text-anchor="middle" fill="#4a4a4a">0:30:00</text>
<text x="608.5" y="579.4" font-size="16" text-anchor="middle" fill="#4a4a4a">1:00:00</text>
<text x="868.5" y="579.4" font-size="16" text-anchor="middle" fill="#4a4a4a">1:30:00</text>
<text x="1129.5" y="579.4" font-size="16" text-anchor="middle" fill="#4a4a4a">2:00:00</text>
<text x="1389.5" y="579.4" font-size="16" text-anchor="middle" fill="#4a4a4a">2:30:00</text>
<text x="1649.5" y="579.4" font-size="16" text-anchor="middle" fill="#4a4a4a">3:00:00</text>
<text x="2.5" y="14.5" font-size="16.67" fill="#4a5a74">Prędkość [km/h]</text>
<text x="1650.5" y="14.5" font-size="16.67" fill="#4a5a74">Prędkość [km/h]</text>
<text x="1719" y="565" font-size="16" fill="#4a4a4a">Czas</text>
<text x="88.3" y="605.8" font-size="14.85" fill="#454545">Wartości pod kursorem:</text>
<text x="88.3" y="627.4" font-size="14.85" fill="#454545">Czas: 0:00:00</text>
<text x="88.3" y="648.8" font-size="14.85" fill="#3f5273">Prędkość: 3,7 km/h</text>
<text x="88.3" y="670.4" font-size="14.85" fill="#454545">Dystans: 0.000 km</text>
<rect x="1084" y="598" width="434" height="90.5" fill="#8a8a8a"/>
<rect x="1081.5" y="595.5" width="434" height="90.5" fill="#fff" stroke="#1a1a1a" stroke-width="1.3"/>
<text x="1202.5" y="618.7" font-size="14.67" text-anchor="end" fill="#704848">0:10:00</text>
<text x="1290.7" y="618.7" font-size="14.67" text-anchor="end" fill="#704848">(5 %)</text>
<text x="1412.5" y="618.7" font-size="14.67" text-anchor="end" fill="#704848">6.283 km</text>
<text x="1500.7" y="618.7" font-size="14.67" text-anchor="end" fill="#704848">(5 %)</text>
<path d="M1094 620.1L1109 609.1M1104 609.1L1109 609.1L1108.3 614.1" stroke="#3dc9a2" stroke-width="1.1" fill="none"/>
<text x="1202.5" y="645.5" font-size="14.67" text-anchor="end" fill="#704848">2:44:34</text>
<text x="1290.7" y="645.5" font-size="14.67" text-anchor="end" fill="#704848">(90 %)</text>
<text x="1412.5" y="645.5" font-size="14.67" text-anchor="end" fill="#704848">109.561 km</text>
<text x="1500.7" y="645.5" font-size="14.67" text-anchor="end" fill="#704848">(90 %)</text>
<path d="M1091 642.4H1109M1102 637.4L1109 642.4L1102 647.4" stroke="#3dc9a2" stroke-width="1.1" fill="none"/>
<text x="1202.5" y="672.7" font-size="14.67" text-anchor="end" fill="#704848">0:08:56</text>
<text x="1290.7" y="672.7" font-size="14.67" text-anchor="end" fill="#704848">(5 %)</text>
<text x="1412.5" y="672.7" font-size="14.67" text-anchor="end" fill="#704848">6.236 km</text>
<text x="1500.7" y="672.7" font-size="14.67" text-anchor="end" fill="#704848">(5 %)</text>
<path d="M1094 662.6L1109 673.6M1108.3 668.6L1109 673.6L1103 673.6" stroke="#3dc9a2" stroke-width="1.1" fill="none"/>
</svg></body></html>
